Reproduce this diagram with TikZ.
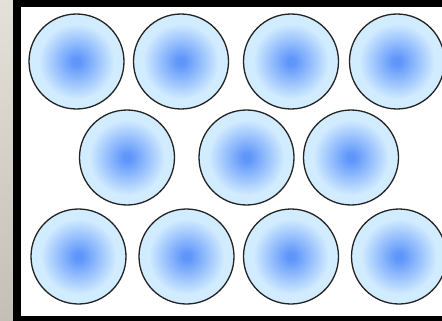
\documentclass[tikz,border=0pt]{standalone}
\definecolor{ballin}{RGB}{95,150,250}
\definecolor{ballout}{RGB}{210,236,255}
\definecolor{edgec}{RGB}{35,35,35}
\definecolor{bgtop}{RGB}{228,225,218}
\definecolor{bgbot}{RGB}{196,191,182}
\pgfdeclareradialshading{ballshade}{\pgfpoint{0bp}{0bp}}{color(0bp)=(ballin); color(2bp)=(ballin); color(20bp)=(ballout); color(50bp)=(ballout)}
\tikzset{
  ball/.style={circle, draw=edgec, line width=1.3pt, minimum size=95pt, inner sep=0pt, shading=ballshade}
}
\begin{document}
\begin{tikzpicture}[x=1pt,y=-1pt]
\useasboundingbox (0,0) rectangle (442,321);
\shade[top color=bgtop, bottom color=bgbot] (0,0) rectangle (14,321);
\fill[black] (13,0) rectangle (442,321);
\fill[white] (21,7) rectangle (442,316);
\begin{scope}
\clip (21,7) rectangle (442,316);
\node[ball] (b1) at (76.5,61.5) {};
\node[ball] (b2) at (181,61.5) {};
\node[ball] (b3) at (291,61.5) {};
\node[ball] (b4) at (397,61.5) {};
\node[ball] (b5) at (127,157.5) {};
\node[ball] (b6) at (246.5,157.5) {};
\node[ball] (b7) at (351,157.5) {};
\node[ball] (b8) at (78.5,256.5) {};
\node[ball] (b9) at (186.5,256.5) {};
\node[ball] (b10) at (291,256.5) {};
\node[ball] (b11) at (399,256.5) {};
\end{scope}
\end{tikzpicture}
\end{document}
